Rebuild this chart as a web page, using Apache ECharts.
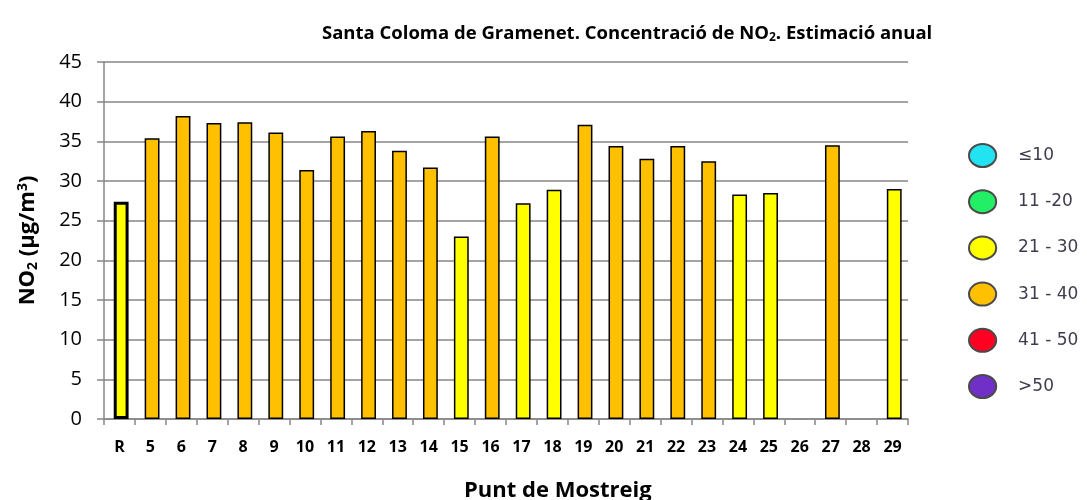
<!DOCTYPE html>
<html>
<head>
<meta charset="utf-8">
<script src="https://cdn.jsdelivr.net/npm/echarts@6/dist/echarts.min.js"></script>
<style>
html,body{margin:0;padding:0;background:#fff;}
#chart{width:1087px;height:500px;}
</style>
</head>
<body>
<div id="chart"></div>
<script>
// ---- data ----
const categories = ['R','5','6','7','8','9','10','11','12','13','14','15','16','17','18','19','20','21','22','23','24','25','26','27','28','29'];
const values = [27.4,35.4,38.2,37.3,37.4,36.1,31.4,35.6,36.3,33.8,31.7,23.0,35.6,27.2,28.9,37.1,34.4,32.8,34.4,32.5,28.3,28.5,null,34.5,null,29.0];
const yTicks = [0,5,10,15,20,25,30,35,40,45];
const legendLabels = ['≤10','11 -20','21 - 30','31 - 40','41 - 50','>50'];
const legendUpper = [10,20,30,40,50,Infinity];
const legendColors = ['#22E3F2','#22EE66','#FFFF00','#FFC000','#FF0022','#7030C8'];

function colorFor(v){
  for (let i=0;i<legendUpper.length;i++){ if (v <= legendUpper[i] + 0.5) return legendColors[i]; }
  return legendColors[legendColors.length-1];
}

const barData = values.map((v,i)=>{
  if (v === null) return null;
  return {
    value: v,
    itemStyle: {
      color: colorFor(v),
      borderColor: '#000',
      borderWidth: i === 0 ? 3 : 1.5
    }
  };
});

const ellipse = 'path://M0,11 A13,11 0 1,1 26,11 A13,11 0 1,1 0,11 Z';

const legendSeries = legendLabels.map((name,i)=>({
  name: name,
  type: 'bar',
  data: [],
  itemStyle: {color: legendColors[i], borderColor:'#4a4a4a', borderWidth:1.2}
}));

const chart = echarts.init(document.getElementById('chart'), null, {renderer:'canvas'});
chart.setOption({
  animation: false,
  backgroundColor: '#fff',
  title: [
    {
      text: 'Santa Coloma de Gramenet. Concentració de NO{sub|2}. Estimació anual',
      left: 317, top: 18,
      textStyle: {
        fontFamily: 'Open Sans', fontWeight: 'bold', fontSize: 18.5, color: '#000',
        rich: { sub: {fontFamily:'Open Sans', fontWeight:'bold', fontSize: 12, verticalAlign:'bottom', padding:[9,0,0,0], color:'#000'} }
      }
    },
    {
      text: 'Punt de Mostreig',
      left: 459, top: 475,
      textStyle: {fontFamily:'Open Sans', fontWeight:'bold', fontSize:22, color:'#000'}
    }
  ],
  legend: {
    orient: 'vertical',
    left: 963, top: 138,
    itemWidth: 29, itemHeight: 23, itemGap: 21.2,
    icon: ellipse,
    data: legendLabels,
    selectedMode: false,
    textStyle: {fontFamily:'DejaVu Sans', fontSize: 17, color:'#3d3d4d', padding:[0,0,0,16]}
  },
  grid: {left: 104, right: 179, top: 62, bottom: 81},
  xAxis: {
    type: 'category',
    data: categories,
    axisLine: {show:true, lineStyle:{color:'#868686', width:1.5}},
    axisTick: {show:true, length:6, alignWithLabel:false, lineStyle:{color:'#868686', width:1.5}},
    axisLabel: {fontFamily:'Open Sans', fontWeight:'bold', fontSize:16, color:'#000', margin:20, interval:0}
  },
  yAxis: {
    type: 'value',
    min: yTicks[0], max: yTicks[yTicks.length-1], interval: 5,
    name: '{b|NO}{sub|2}{b| (µg/m}{sup|3}{b|)}',
    nameLocation: 'middle', nameGap: 64, nameRotate: 90,
    nameTextStyle: {
      rich: {
        b: {fontFamily:'Open Sans', fontWeight:'bold', fontSize:22, color:'#000'},
        sub: {fontFamily:'Open Sans', fontWeight:'bold', fontSize:14, color:'#000', verticalAlign:'bottom', padding:[10,0,0,0]},
        sup: {fontFamily:'Open Sans', fontWeight:'bold', fontSize:14, color:'#000', verticalAlign:'top', padding:[0,0,10,0]}
      }
    },
    axisLine: {show:true, lineStyle:{color:'#868686', width:1.5}},
    axisTick: {show:true, length:7, lineStyle:{color:'#868686', width:1.5}},
    axisLabel: {fontFamily:'Open Sans', fontSize:20, color:'#000', margin:22},
    splitLine: {show:true, lineStyle:{color:'#868686', width:1.5}}
  },
  series: [
    {
      name: 'NO2',
      type: 'bar',
      data: barData,
      barWidth: '48%',
      barGap: '-100%'
    }
  ].concat(legendSeries)
});
</script>
</body>
</html>
